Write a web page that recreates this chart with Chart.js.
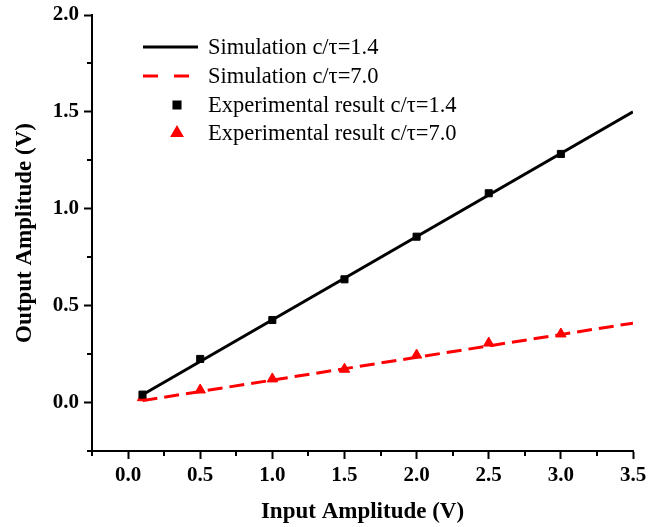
<!DOCTYPE html>
<html lang="en">
<head>
    <meta charset="UTF-8">
    <title>Output vs Input Amplitude</title>
    <script src="https://cdn.jsdelivr.net/npm/chart.js"></script>
    <style>
        body {
            margin: 0;
            background: #fff;
        }
        #chartContainer {
            width: 648px;
            height: 527px;
        }
    </style>
</head>
<body>
    <div id="chartContainer">
        <canvas id="ampChart" width="648" height="527"></canvas>
    </div>

    <script>
        // data
        const simX = [0.1, 3.5];
        const simLow = [0.04, 1.5];     // c/tau = 1.4
        const simHigh = [0.01, 0.41];   // c/tau = 7.0

        const expX = [0.1, 0.5, 1.0, 1.5, 2.0, 2.5, 3.0];
        const expLow = [0.041, 0.225, 0.426, 0.636, 0.856, 1.08, 1.283];
        const expHigh = [0.025, 0.065, 0.122, 0.172, 0.245, 0.307, 0.354];

        const legendLabels = [
            'Simulation c/\u03c4=1.4',
            'Simulation c/\u03c4=7.0',
            'Experimental result c/\u03c4=1.4',
            'Experimental result c/\u03c4=7.0'
        ];

        const serif = "'Liberation Serif', 'Times New Roman', serif";
        const toXY = (xs, ys) => xs.map((x, i) => ({ x: x, y: ys[i] }));
        const isMajor = v => Math.abs(v * 2 - Math.round(v * 2)) < 1e-6;

        // minor ticks + legend drawn on top of the chart
        const decorations = {
            id: 'decorations',
            afterDraw(chart) {
                const ctx = chart.ctx;
                const area = chart.chartArea;
                const xs = chart.scales.x, ys = chart.scales.y;
                ctx.save();
                ctx.strokeStyle = '#000';
                ctx.lineWidth = 2;
                for (let v = -0.25; v <= 3.5001; v += 0.25) {
                    if (isMajor(v)) continue;
                    const px = Math.round(xs.getPixelForValue(v));
                    ctx.beginPath();
                    ctx.moveTo(px, area.bottom);
                    ctx.lineTo(px, area.bottom + 5);
                    ctx.stroke();
                }
                for (let v = -0.25; v <= 2.0001; v += 0.25) {
                    if (isMajor(v)) continue;
                    const py = Math.round(ys.getPixelForValue(v));
                    ctx.beginPath();
                    ctx.moveTo(area.left, py);
                    ctx.lineTo(area.left - 5, py);
                    ctx.stroke();
                }

                // legend
                const lx0 = area.left + 51, lx1 = area.left + 106, tx = area.left + 116;
                const rows = [32, 61, 90, 118];
                ctx.font = '22.5px ' + serif;
                ctx.textBaseline = 'middle';
                chart.data.datasets.forEach((ds, i) => {
                    const y = area.top + rows[i];
                    ctx.save();
                    if (ds.showLine) {
                        ctx.strokeStyle = ds.borderColor;
                        ctx.lineWidth = 3;
                        ctx.setLineDash(ds.borderDash ? [15, 16] : []);
                        ctx.beginPath();
                        ctx.moveTo(lx0, y);
                        ctx.lineTo(lx1, y);
                        ctx.stroke();
                    } else {
                        ctx.fillStyle = ds.backgroundColor;
                        ctx.strokeStyle = ds.borderColor;
                        Chart.helpers.drawPoint(ctx, {
                            pointStyle: ds.pointStyle,
                            radius: ds.pointRadius,
                            borderWidth: 1
                        }, area.left + 85, y);
                    }
                    ctx.restore();
                    ctx.fillStyle = '#000';
                    ctx.fillText(legendLabels[i], tx, y + 1);
                });
                ctx.restore();
            }
        };

        const ctx = document.getElementById('ampChart').getContext('2d');
        const myChart = new Chart(ctx, {
            type: 'scatter',
            data: {
                datasets: [
                    {
                        data: toXY(simX, simLow),
                        showLine: true,
                        borderColor: '#000',
                        borderWidth: 3,
                        pointRadius: 0
                    },
                    {
                        data: toXY(simX, simHigh),
                        showLine: true,
                        borderColor: '#ff0000',
                        borderWidth: 3,
                        borderDash: [15, 7],
                        pointRadius: 0
                    },
                    {
                        data: toXY(expX, expLow),
                        showLine: false,
                        pointStyle: 'rect',
                        pointRadius: 5,
                        backgroundColor: '#000',
                        borderColor: '#000'
                    },
                    {
                        data: toXY(expX, expHigh),
                        showLine: false,
                        pointStyle: 'triangle',
                        pointRadius: 6,
                        backgroundColor: '#ff0000',
                        borderColor: '#ff0000'
                    }
                ]
            },
            options: {
                responsive: false,
                animation: false,
                layout: { padding: { top: 15, right: 15, left: 0, bottom: 0 } },
                plugins: {
                    legend: { display: false },
                    tooltip: { enabled: false }
                },
                scales: {
                    x: {
                        type: 'linear',
                        min: -0.25,
                        max: 3.5,
                        afterFit: s => { s.height = 76; s.paddingRight = 0; s.paddingLeft = 0; },
                        border: { display: true, color: '#000', width: 2 },
                        grid: {
                            drawOnChartArea: false,
                            tickLength: 8,
                            tickWidth: 2,
                            tickColor: c => isMajor(c.tick.value) ? '#000' : 'rgba(0,0,0,0)'
                        },
                        ticks: {
                            stepSize: 0.25,
                            autoSkip: false,
                            maxRotation: 0,
                            padding: 4,
                            color: '#000',
                            font: { family: serif, size: 21, weight: 'bold' },
                            callback: v => isMajor(v) ? v.toFixed(1) : ''
                        },
                        title: {
                            display: true,
                            text: 'Input Amplitude (V)',
                            color: '#000',
                            font: { family: serif, size: 23, weight: 'bold' },
                            padding: { top: 6, bottom: 1 }
                        }
                    },
                    y: {
                        type: 'linear',
                        min: -0.25,
                        max: 2.0,
                        afterFit: s => { s.width = 92; s.paddingTop = 0; s.paddingBottom = 0; },
                        border: { display: true, color: '#000', width: 2 },
                        grid: {
                            drawOnChartArea: false,
                            tickLength: 8,
                            tickWidth: 2,
                            tickColor: c => isMajor(c.tick.value) ? '#000' : 'rgba(0,0,0,0)'
                        },
                        ticks: {
                            stepSize: 0.25,
                            autoSkip: false,
                            padding: 5,
                            color: '#000',
                            font: { family: serif, size: 21, weight: 'bold' },
                            callback: v => isMajor(v) ? v.toFixed(1) : ''
                        },
                        title: {
                            display: true,
                            text: 'Output Amplitude (V)',
                            color: '#000',
                            font: { family: serif, size: 23, weight: 'bold' },
                            padding: { top: 11, bottom: 6 }
                        }
                    }
                }
            },
            plugins: [decorations]
        });
    </script>
</body>
</html>
